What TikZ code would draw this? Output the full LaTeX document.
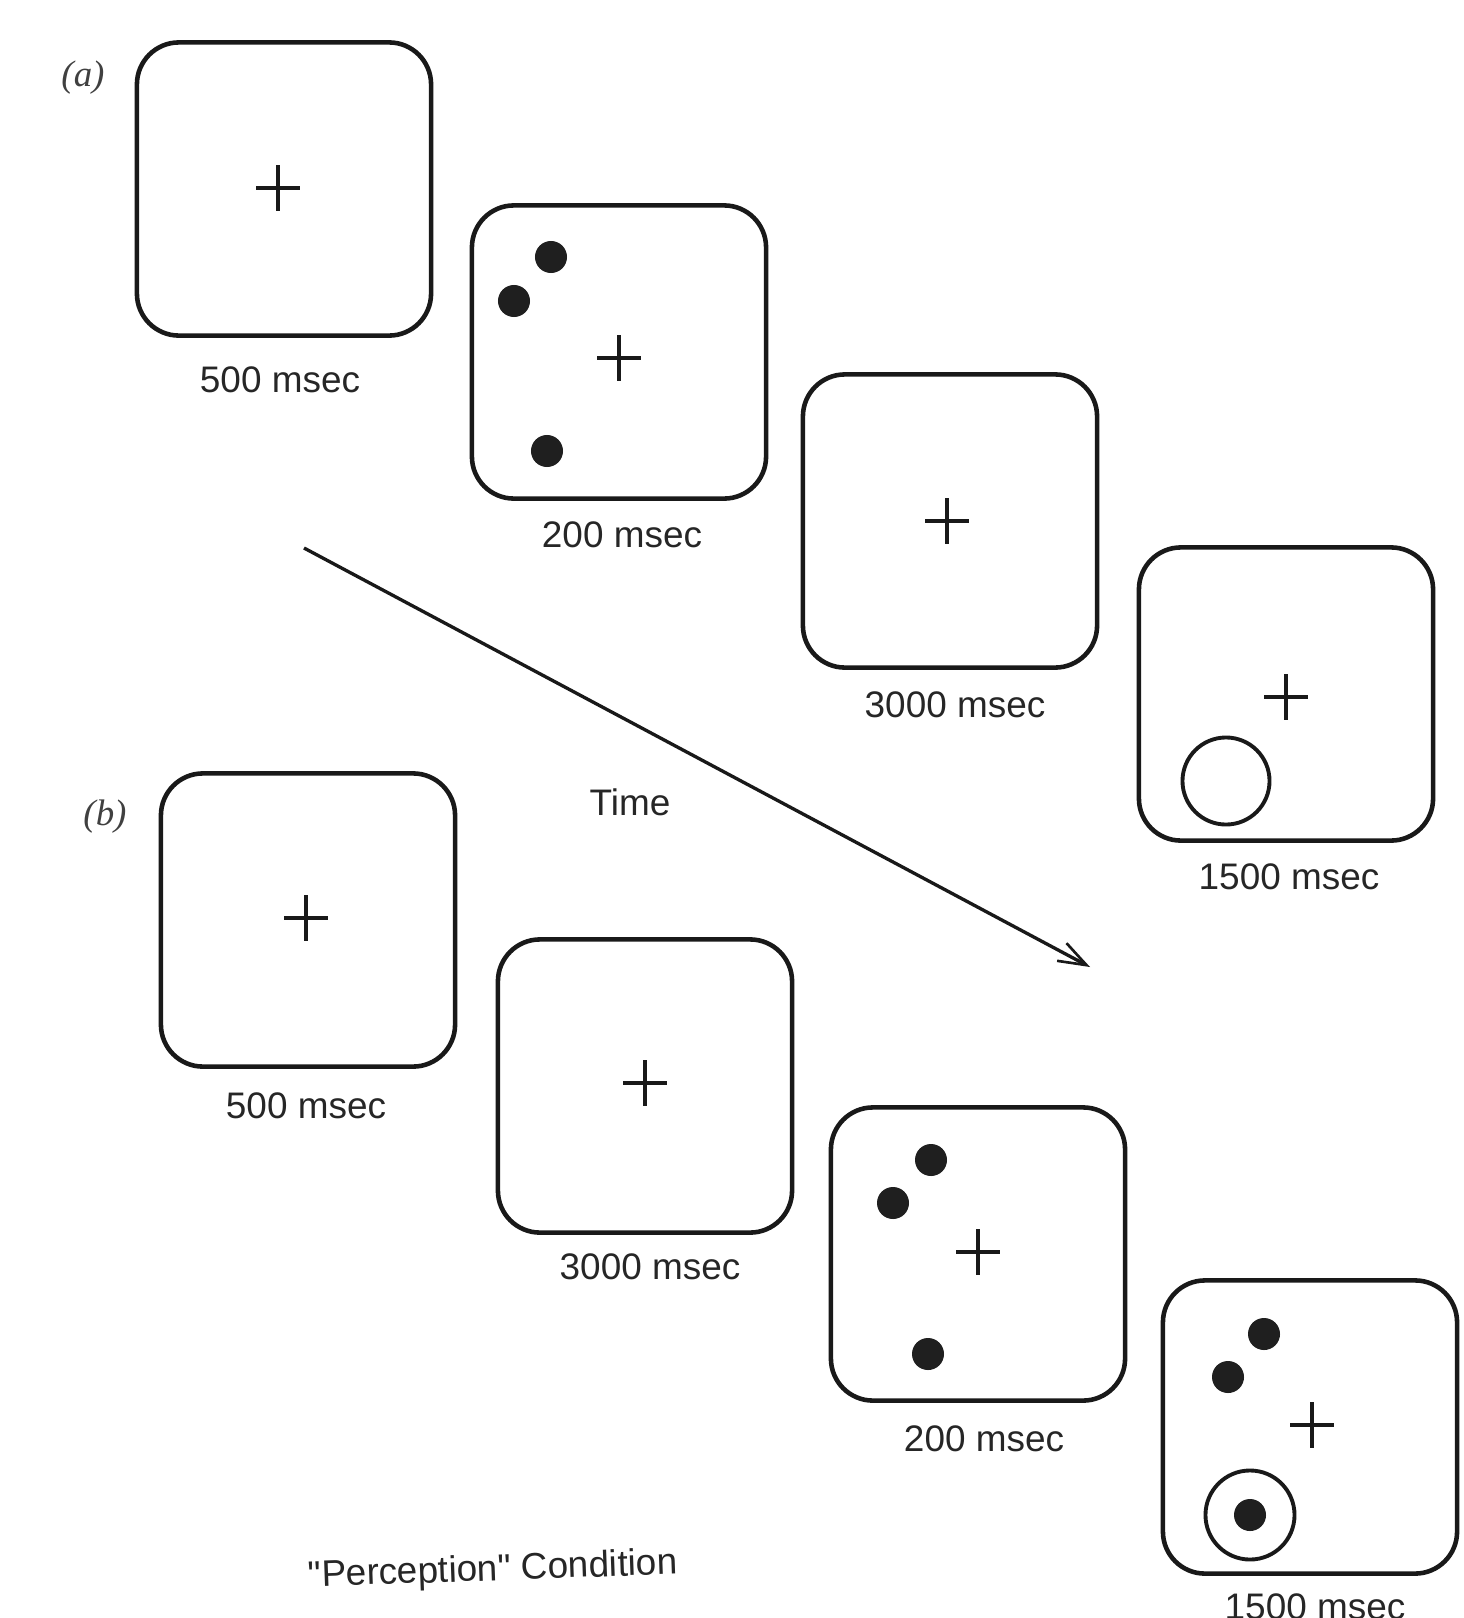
\documentclass[tikz,border=0pt]{standalone}
\usepackage{fontspec}
\setmainfont{Liberation Sans}
\newfontfamily\straightq{Liberation Sans}[Ligatures=TeXOff]
\newfontfamily\serifit{Liberation Serif}
\usetikzlibrary{arrows.meta}

\tikzset{
  screen/.style={draw=black!90, line width=1.3pt, rounded corners=0.42cm,
                 minimum width=2.94cm, minimum height=2.93cm, inner sep=0pt},
  dot/.style={circle, fill=black!88, minimum size=0.32cm, inner sep=0pt},
  probe/.style={circle, draw=black!90, line width=1.1pt, minimum size=0.87cm, inner sep=0pt},
  dur/.style={font=\fontsize{10.5}{12}\selectfont, text=black!85, inner sep=0pt},
  panel/.style={font=\serifit\itshape\fontsize{10.5}{12}\selectfont, text=black!75, inner sep=0pt},
  timeline/.style={line width=0.95pt, draw=black!90,
                   -{Straight Barb[length=0.28cm, width=0.2cm, line width=0.75pt]}},
  fixcross/.pic={\draw[line width=1.1pt, black!90] (-22,0) -- (22,0) (0,-23) -- (0,23);}
}

\begin{document}
\begin{tikzpicture}[x=0.01cm, y=-0.01cm]
\useasboundingbox[fill=white] (0,0) rectangle (1464,1618);

% ---------- (a) ----------
\node[panel] (la) at (83,78) {(a)};

\node[screen] (a1) at (284,189) {};
\pic at (278,188) {fixcross};
\node[dur] (ta1) at (280,380) {500 msec};

\node[screen] (a2) at (619,352) {};
\node[dot] (a2d1) at (551,257) {};
\node[dot] (a2d2) at (514,301) {};
\node[dot] (a2d3) at (547,451) {};
\pic at (619,358) {fixcross};
\node[dur] (ta2) at (622,535) {200 msec};

\node[screen] (a3) at (950,521) {};
\pic at (947,521) {fixcross};
\node[dur] (ta3) at (955,705) {3000 msec};

\node[screen] (a4) at (1286,694) {};
\pic at (1286,697) {fixcross};
\node[probe] (a4p) at (1226,781) {};
\node[dur] (ta4) at (1289,877) {1500 msec};

% ---------- time axis ----------
\coordinate (t0) at (304,548);
\coordinate (t1) at (1090,967);
\draw[timeline] (t0) -- (t1);
\node[dur] (time) at (630,802) {Time};

% ---------- (b) ----------
\node[panel] (lb) at (105,817) {(b)};

\node[screen] (b1) at (308,920) {};
\pic at (306,918) {fixcross};
\node[dur] (tb1) at (306,1106) {500 msec};

\node[screen] (b2) at (645,1086) {};
\pic at (645,1083) {fixcross};
\node[dur] (tb2) at (650,1267) {3000 msec};

\node[screen] (b3) at (978,1254) {};
\node[dot] (b3d1) at (931,1160) {};
\node[dot] (b3d2) at (893,1203) {};
\node[dot] (b3d3) at (928,1354) {};
\pic at (978,1252) {fixcross};
\node[dur] (tb3) at (984,1439) {200 msec};

\node[screen] (b4) at (1310,1427) {};
\node[dot] (b4d1) at (1264,1334) {};
\node[dot] (b4d2) at (1228,1377) {};
\pic at (1312,1425) {fixcross};
\node[probe, minimum size=0.89cm] (b4p) at (1250,1515) {};
\node[dot] (b4d3) at (1250,1515) {};
\node[dur] (tb4) at (1315,1607) {1500 msec};

\node[dur, font=\straightq\fontsize{10.5}{12}\selectfont, rotate=2] (cond) at (493,1571) {"Perception" Condition};
\end{tikzpicture}
\end{document}
